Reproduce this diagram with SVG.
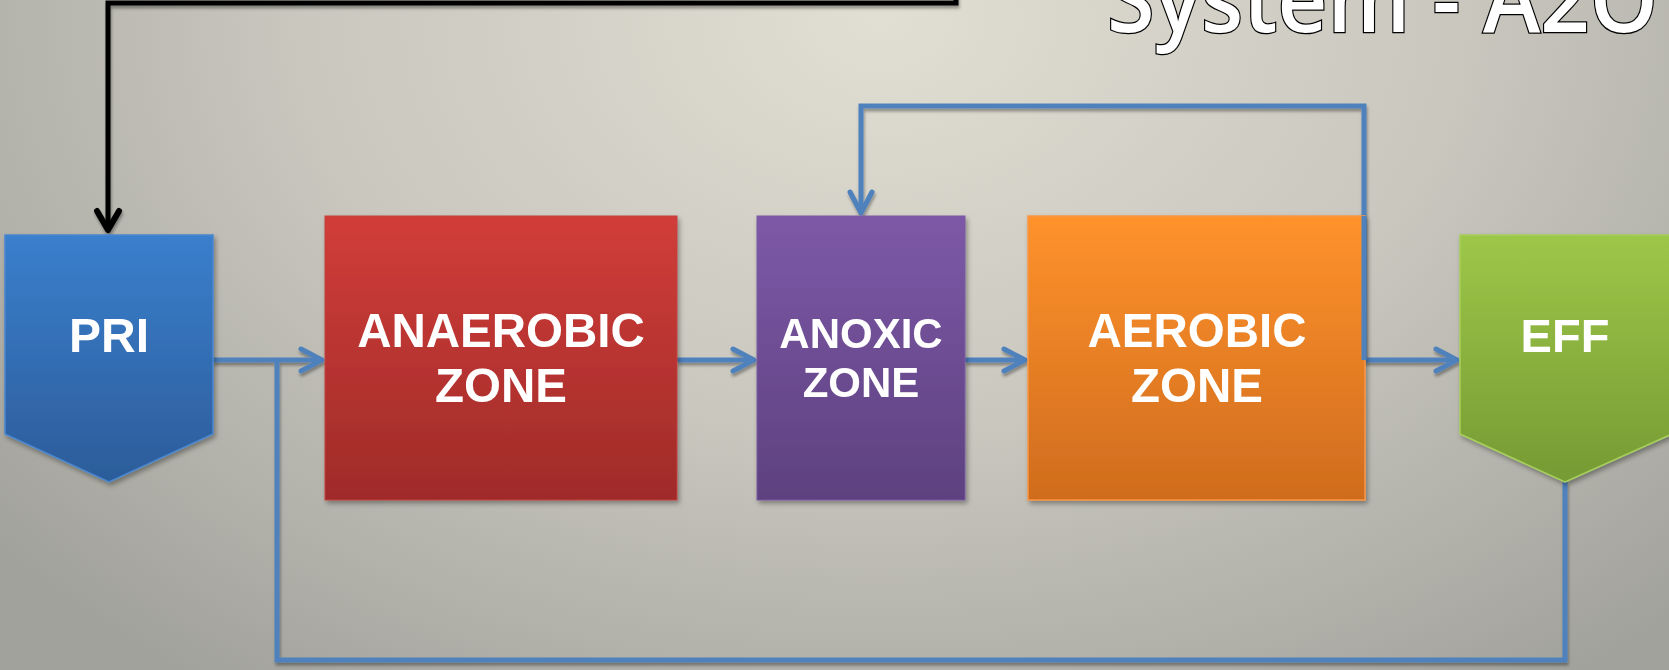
<svg xmlns="http://www.w3.org/2000/svg" width="1669" height="670" viewBox="0 0 1669 670">
  <defs>
    <radialGradient id="bg" gradientUnits="userSpaceOnUse" cx="0" cy="0" r="1" gradientTransform="translate(880 20) scale(1150 820)">
      <stop offset="0" stop-color="#e1dfd3"/>
      <stop offset="0.5" stop-color="#c9c7be"/>
      <stop offset="1" stop-color="#a2a29c"/>
    </radialGradient>
    <linearGradient id="gBlue" x1="0" y1="0" x2="0" y2="1">
      <stop offset="0" stop-color="#3a7fcd"/>
      <stop offset="1" stop-color="#2c5c9a"/>
    </linearGradient>
    <linearGradient id="gRed" x1="0" y1="0" x2="0" y2="1">
      <stop offset="0" stop-color="#d13d39"/>
      <stop offset="1" stop-color="#9f2b29"/>
    </linearGradient>
    <linearGradient id="gPurple" x1="0" y1="0" x2="0" y2="1">
      <stop offset="0" stop-color="#7d59a7"/>
      <stop offset="1" stop-color="#5d417f"/>
    </linearGradient>
    <linearGradient id="gOrange" x1="0" y1="0" x2="0" y2="1">
      <stop offset="0" stop-color="#ff922b"/>
      <stop offset="1" stop-color="#cf6c1e"/>
    </linearGradient>
    <linearGradient id="gGreen" x1="0" y1="0" x2="0" y2="1">
      <stop offset="0" stop-color="#9dc748"/>
      <stop offset="1" stop-color="#769a34"/>
    </linearGradient>
    <filter id="shadow" x="-10%" y="-10%" width="120%" height="130%">
      <feDropShadow dx="2" dy="3" stdDeviation="2.5" flood-color="#000" flood-opacity="0.35"/>
    </filter>
    <filter id="lshadow" x="-5%" y="-5%" width="110%" height="110%">
      <feDropShadow dx="1" dy="3" stdDeviation="1.5" flood-color="#000" flood-opacity="0.35"/>
    </filter>
    <marker id="arrBlue" markerUnits="userSpaceOnUse" markerWidth="40" markerHeight="40" refX="0" refY="0" orient="auto" overflow="visible">
      <path d="M-21,-11 L0,0 L-21,11" fill="none" stroke="#4f81bd" stroke-width="5" stroke-linecap="round" stroke-linejoin="round"/>
    </marker>
    <marker id="arrBlack" markerUnits="userSpaceOnUse" markerWidth="40" markerHeight="40" refX="0" refY="0" orient="auto" overflow="visible">
      <path d="M-19,-11 L0,0 L-19,11" fill="none" stroke="#000" stroke-width="6" stroke-linecap="round" stroke-linejoin="round"/>
    </marker>
  </defs>
  <style>
    .lbl { font-family: "Liberation Sans", Arial, sans-serif; font-weight: bold; fill: #ffffff; text-anchor: middle; }
    .blue { fill: none; stroke: #4f81bd; stroke-width: 5; stroke-linejoin: miter; }
    .black { fill: none; stroke: #000; stroke-width: 5; }
    .title { font-family: "Open Sans", "Liberation Sans", sans-serif; font-weight: 600; fill: #ffffff; stroke: #000; stroke-width: 2.5; paint-order: stroke; }
  </style>

  <rect x="0" y="0" width="1669" height="670" fill="url(#bg)"/>

  <text class="title" x="1107" y="32" font-size="92" textLength="551" lengthAdjust="spacingAndGlyphs">System - A2O</text>

  <g id="connectors" filter="url(#lshadow)">
    <path class="black" d="M956,-10 L956,3 L108,3 L108,230" marker-end="url(#arrBlack)"/>
    <path class="blue" d="M213,360 L322,360" marker-end="url(#arrBlue)"/>
    <path class="blue" d="M1565,482 L1565,660 L277,660 L277,360"/>
    <path class="blue" d="M677,360 L754,360" marker-end="url(#arrBlue)"/>
    <path class="blue" d="M965,360 L1025,360" marker-end="url(#arrBlue)"/>
    <path class="blue" d="M1364,360 L1364,106 L861,106 L861,213" marker-end="url(#arrBlue)"/>
    <path class="blue" d="M1364,360 L1457,360" marker-end="url(#arrBlue)"/>
  </g>

  <g id="pri" filter="url(#shadow)">
    <polygon points="5,235 213,235 213,434 109,482 5,434" fill="url(#gBlue)" stroke="#4a87cf" stroke-width="1.5"/>
    <text class="lbl" x="109" y="352" font-size="48">PRI</text>
  </g>

  <g id="anaerobic" filter="url(#shadow)">
    <rect x="325" y="216" width="352" height="284" fill="url(#gRed)" stroke="#c2413c" stroke-width="1"/>
    <text class="lbl" x="501" y="347" font-size="47.5">ANAEROBIC</text>
    <text class="lbl" x="501" y="402" font-size="47.5">ZONE</text>
  </g>

  <g id="anoxic" filter="url(#shadow)">
    <rect x="757" y="216" width="208" height="284" fill="url(#gPurple)" stroke="#7a5aa3" stroke-width="1"/>
    <text class="lbl" x="861" y="348" font-size="42">ANOXIC</text>
    <text class="lbl" x="861" y="397" font-size="42">ZONE</text>
  </g>

  <g id="aerobic" filter="url(#shadow)">
    <rect x="1028" y="216" width="337" height="284" fill="url(#gOrange)" stroke="#f79646" stroke-width="1.5"/>
    <text class="lbl" x="1197" y="347" font-size="47.5">AEROBIC</text>
    <text class="lbl" x="1197" y="402" font-size="47.5">ZONE</text>
  </g>

  <g id="eff" filter="url(#shadow)">
    <polygon points="1460,235 1672,235 1672,434 1565,482 1460,434" fill="url(#gGreen)" stroke="#a6d05a" stroke-width="1.5"/>
    <text class="lbl" x="1565" y="352" font-size="47">EFF</text>
  </g>

  <path class="blue" d="M1364,216 L1364,360"/>
</svg>
